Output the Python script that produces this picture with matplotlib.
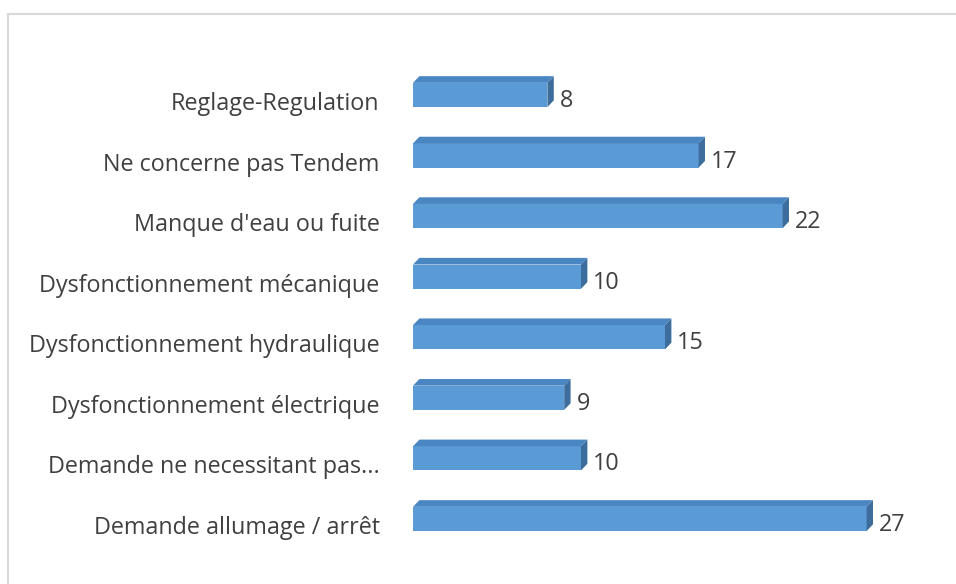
import matplotlib.pyplot as plt
from matplotlib.patches import Polygon
from matplotlib.lines import Line2D

categories = ['Demande allumage / arrêt', 'Demande ne necessitant pas...',
              'Dysfonctionnement électrique', 'Dysfonctionnement hydraulique',
              'Dysfonctionnement mécanique', "Manque d'eau ou fuite",
              'Ne concerne pas Tendem', 'Reglage-Regulation']
values = [27, 10, 9, 15, 10, 22, 17, 8]

plt.rcParams['font.family'] = ['Open Sans', 'DejaVu Sans']

front = '#5B9BD5'
top = '#4A86C2'
side = '#3D6D9C'
txt = '#404040'

fig = plt.figure(figsize=(9.56, 5.84), dpi=100)
ax = fig.add_axes([413 / 956, 1 - 570 / 584, 504 / 956, 530 / 584])
ax.set_xlim(0, 30)
ax.set_ylim(-0.743, 8.007)

# 3d-ish bars: front face, top face, side face
h = 0.4      # front face height
off = 0.1    # front face center above tick
dx = 0.38    # depth in x units
dy = 0.11    # depth in y units
for i, v in enumerate(values):
    y0 = i + off - h / 2
    y1 = y0 + h
    ax.barh(i + off, v, height=h, color=front, edgecolor='none')
    ax.add_patch(Polygon([(0, y1), (v, y1), (v + dx, y1 + dy), (dx, y1 + dy)],
                         closed=True, color=top, lw=0))
    ax.add_patch(Polygon([(v, y0), (v + dx, y0 + dy), (v + dx, y1 + dy), (v, y1)],
                         closed=True, color=side, lw=0))
    ax.text(v + dx + 0.35, i, str(v), va='center', ha='left', fontsize=16.8, color=txt)

ax.set_yticks(range(len(categories)))
ax.set_yticklabels(categories, fontsize=16.8, color=txt)
ax.tick_params(axis='y', length=0, pad=24)
ax.set_xticks([])
for s in ax.spines.values():
    s.set_visible(False)
ax.patch.set_alpha(0)

# chart area border (partially cropped)
fig.add_artist(Line2D([8 / 956, 1], [1 - 14 / 584, 1 - 14 / 584], color='#D9D9D9', lw=1.5))
fig.add_artist(Line2D([8 / 956, 8 / 956], [0, 1 - 14 / 584], color='#D9D9D9', lw=1.5))

fig.savefig('out.png', dpi=100)
